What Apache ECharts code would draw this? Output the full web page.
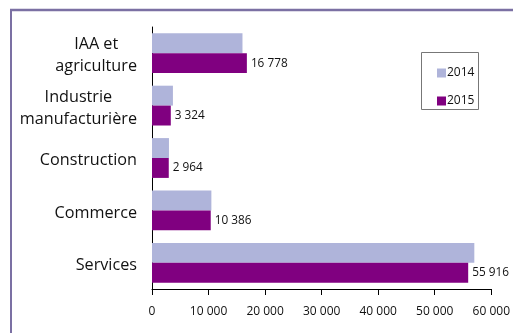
<!DOCTYPE html>
<html><head><meta charset="utf-8">
<script src="https://cdn.jsdelivr.net/npm/echarts@6/dist/echarts.min.js"></script>
<style>html,body{margin:0;padding:0;background:#fff}#c{width:513px;height:333px}</style>
</head><body><div id="c"></div>
<script>
const categories = ["IAA et\nagriculture", "Industrie\nmanufacturière", "Construction", "Commerce", "Services"];
const values2014 = [16000, 3700, 3000, 10500, 57000];
const values2015 = [16778, 3324, 2964, 10386, 55916];
const xTicks = [0, 10000, 20000, 30000, 40000, 50000, 60000];

const FONT = 'Open Sans';
const fmt = v => String(v).replace(/\B(?=(\d{3})+(?!\d))/g, " ");
const chart = echarts.init(document.getElementById('c'), null, {renderer: 'canvas'});
chart.setOption({
  animation: false,
  graphic: [
    {type: 'line', shape: {x1: 10, y1: 10, x2: 513, y2: 10}, style: {stroke: '#7b70a3', lineWidth: 2.5}},
    {type: 'line', shape: {x1: 11, y1: 9, x2: 11, y2: 333}, style: {stroke: '#7b70a3', lineWidth: 2}},
    {type: 'rect', shape: {x: 421.5, y: 52.5, width: 57, height: 57}, style: {fill: '#fff', stroke: '#777', lineWidth: 1}}
  ],
  legend: {
    orient: 'vertical', left: 432, top: 62, itemWidth: 9, itemHeight: 9, itemGap: 16,
    icon: 'rect', textStyle: {fontSize: 12, color: '#111', fontFamily: FONT, padding: [0, 0, 0, -4]},
    data: ['2014', '2015']
  },
  grid: {left: 152, right: 21, top: 27, bottom: 44},
  xAxis: {
    type: 'value', min: 0, max: 60000, interval: 10000,
    axisLine: {show: true, lineStyle: {color: '#000'}},
    axisTick: {show: true, length: 6, lineStyle: {color: '#000'}},
    splitLine: {show: false},
    axisLabel: {fontSize: 12, color: '#111', margin: 17, fontFamily: FONT,
      formatter: v => xTicks.includes(v) ? fmt(v) : ''}
  },
  yAxis: {
    type: 'category', inverse: true, data: categories,
    axisLine: {show: true, lineStyle: {color: '#000'}},
    axisTick: {show: false},
    axisLabel: {margin: 15, align: 'right', padding: [5, 0, 0, 0],
      formatter: v => v.split('\n').map(s => '{c|' + s + '}').join('\n'),
      rich: {c: {align: 'center', fontSize: 16.2, lineHeight: 22, color: '#111', fontFamily: FONT}}}
  },
  series: [
    {name: '2014', type: 'bar', data: values2014, barGap: '0%', barCategoryGap: '24%',
      itemStyle: {color: '#afb4da'}},
    {name: '2015', type: 'bar', data: values2015, barGap: '0%', barCategoryGap: '24%',
      itemStyle: {color: '#800080'},
      label: {show: true, position: 'right', distance: 4, fontSize: 11.8, color: '#111', fontFamily: FONT,
        formatter: p => fmt(p.value)}}
  ]
});
</script></body></html>
